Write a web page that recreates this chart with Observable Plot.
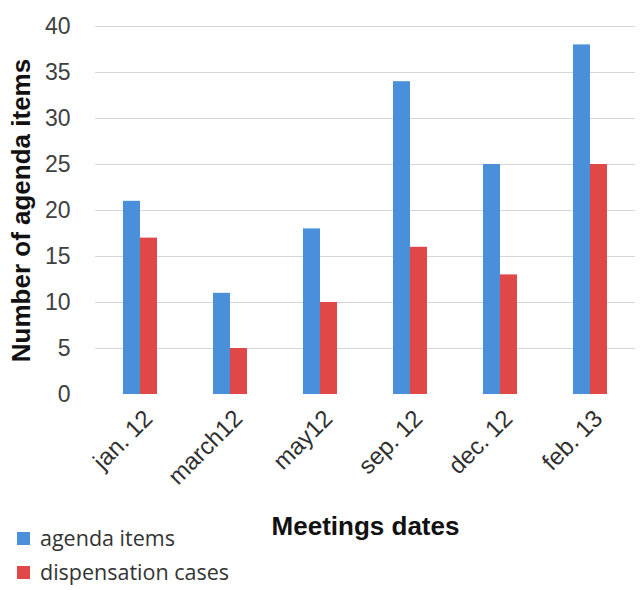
<!DOCTYPE html>
<html>
<head>
<meta charset="utf-8">
<script src="https://cdn.jsdelivr.net/npm/d3@7"></script>
<script src="https://cdn.jsdelivr.net/npm/@observablehq/plot@0.6"></script>
<style>
  body { margin: 0; background: #fff; }
  #wrap { position: relative; width: 641px; height: 590px; }
  #legend { font-family: "Open Sans", sans-serif; font-size: 21.5px; color: #333; }
  #legend div { position: absolute; left: 17px; display: flex; align-items: center; height: 26px; line-height: 26px; white-space: nowrap; }
  #legend span.sw { display: inline-block; width: 13px; height: 13px; margin-right: 10px; }
</style>
</head>
<body>
<div id="wrap">
  <div id="chart"></div>
  <div id="legend"></div>
</div>
<script>
const dates = ["jan. 12", "march12", "may12", "sep. 12", "dec. 12", "feb. 13"];
const agendaItems = [21, 11, 18, 34, 25, 38];
const dispensationCases = [17, 5, 10, 16, 13, 25];
const seriesNames = ["agenda items", "dispensation cases"];
const seriesColors = ["#4a8fd9", "#e04848"];
const yTicks = [0, 5, 10, 15, 20, 25, 30, 35, 40];
const gridValues = [5, 10, 15, 20, 25, 30, 35, 40];

const data = [];
dates.forEach((d, i) => {
  data.push({date: d, series: seriesNames[0], value: agendaItems[i]});
  data.push({date: d, series: seriesNames[1], value: dispensationCases[i]});
});

const chart = Plot.plot({
  width: 641,
  height: 590,
  marginLeft: 94,
  marginRight: 6,
  marginTop: 26,
  marginBottom: 196,
  style: {fontFamily: "Liberation Sans, Arial, sans-serif", background: "#fff"},
  x: {domain: seriesNames, paddingInner: 0, paddingOuter: 1.57},
  fx: {domain: dates, paddingInner: 0, paddingOuter: 0},
  y: {domain: [0, 40]},
  color: {domain: seriesNames, range: seriesColors},
  marks: [
    Plot.ruleY(gridValues, {stroke: "#d6d6d6", strokeWidth: 1.2}),
    Plot.barY(data, {
      fx: "date",
      x: "series",
      y: "value",
      fill: "series",
      inset: 0
    }),
    Plot.axisY({
      ticks: yTicks,
      tickSize: 0,
      tickPadding: 25,
      fontSize: 23,
      fill: "#404040",
      label: null
    }),
    Plot.axisY({
      ticks: [],
      tickSize: 0,
      label: "Number of agenda items",
      labelAnchor: "center",
      labelArrow: "none",
      labelOffset: 84,
      fontSize: 26,
      fontWeight: "bold",
      fill: "#111"
    }),
    Plot.axisFx({
      anchor: "bottom",
      tickSize: 0,
      tickRotate: -45,
      tickPadding: 20,
      dx: 8,
      fontSize: 24,
      fill: "#303030",
      label: null
    }),
    Plot.axisFx({
      anchor: "bottom",
      ticks: [],
      tickSize: 0,
      label: "Meetings dates",
      labelAnchor: "center",
      labelArrow: "none",
      labelOffset: 140,
      fontSize: 26,
      fontWeight: "bold",
      fill: "#111"
    }),
    Plot.axisX({ticks: [], label: null})
  ]
});

document.getElementById("chart").appendChild(chart);

const lg = document.getElementById("legend");
const rowTops = [525, 559];
seriesNames.forEach((n, i) => {
  const row = document.createElement("div");
  row.style.top = rowTops[i] + "px";
  const sw = document.createElement("span");
  sw.className = "sw";
  sw.style.background = seriesColors[i];
  row.appendChild(sw);
  row.appendChild(document.createTextNode(n));
  lg.appendChild(row);
});
</script>
</body>
</html>
